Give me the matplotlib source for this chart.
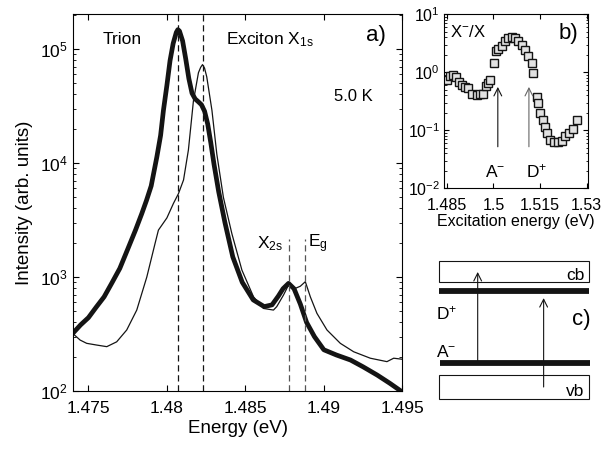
import numpy as np
import matplotlib
matplotlib.use("Agg")
import matplotlib.pyplot as plt
from matplotlib.patches import Rectangle
from matplotlib.ticker import FixedLocator, FixedFormatter, LogLocator, NullFormatter

plt.rcParams['font.family'] = ['Liberation Sans', 'DejaVu Sans']
plt.rcParams['mathtext.fontset'] = 'custom'
plt.rcParams['mathtext.rm'] = 'Liberation Sans'
plt.rcParams['mathtext.it'] = 'Liberation Sans:italic'
plt.rcParams['mathtext.default'] = 'regular'

# --- panel a: PL spectra (energy in eV, intensity in arb. units) ---
thick_e = [1.4740, 1.4745, 1.4750, 1.4755, 1.4760, 1.4765, 1.4770, 1.4775,
           1.4780, 1.4784, 1.4787, 1.4790, 1.47936, 1.4796, 1.47978, 1.4800,
           1.4802, 1.4804, 1.4806, 1.4807, 1.4808, 1.4810, 1.4812, 1.4814,
           1.4816, 1.4818, 1.4820, 1.4822, 1.4824, 1.4826, 1.4828, 1.4830,
           1.4833, 1.4837, 1.4842, 1.4848, 1.4855, 1.4862, 1.4867, 1.4871,
           1.4874, 1.48775, 1.4881, 1.4885, 1.4889, 1.4894, 1.4900, 1.4908,
           1.4917, 1.4925, 1.4934, 1.4942, 1.4950]
thick_i = [320, 380, 440, 545, 670, 890, 1190, 1750,
           2580, 3600, 4700, 6300, 11300, 17500, 29000, 48000,
           79000, 112000, 140000, 148000, 144000, 118000, 82000, 55000,
           41000, 36500, 34500, 32500, 28500, 22000, 15000, 9800,
           5600, 3000, 1500, 900, 630, 550, 570, 680,
           790, 880, 790, 580, 400, 300, 230, 207,
           187, 163, 138, 117, 98]

thin_e = [1.4740, 1.47447, 1.47489, 1.47553, 1.47617, 1.4768, 1.47744, 1.47808,
          1.47872, 1.47925, 1.47946, 1.4800, 1.48042, 1.48074, 1.48106, 1.48137,
          1.48169, 1.48201, 1.48215, 1.48227, 1.4824, 1.48254, 1.48287, 1.48318,
          1.4836, 1.48414, 1.48478, 1.48552, 1.48616, 1.48679, 1.4870, 1.48743,
          1.48775, 1.48818, 1.4885, 1.48882, 1.48914, 1.48956, 1.4902, 1.49105,
          1.4919, 1.49296, 1.49402, 1.49445, 1.4950]
thin_i = [320, 280, 262, 253, 245, 270, 343, 513,
          1000, 1980, 2580, 3300, 4430, 5400, 7100, 13000,
          35000, 62000, 69000, 73000, 68000, 57000, 29000, 12000,
          5000, 2400, 1150, 670, 530, 513, 550, 695,
          850, 795, 830, 910, 670, 480, 343, 262,
          221, 194, 181, 194, 190]

full_lines = [1.4807, 1.4823]      # trion, X1s
short_lines = [1.4878, 1.4888]     # X2s, Eg
short_top = 2150

# --- panel b: X-/X ratio vs excitation energy ---
exc_e = [1.4850, 1.4860, 1.4870, 1.4880, 1.4890, 1.4900, 1.4909, 1.4919, 1.4930,
         1.4946, 1.4957, 1.4967, 1.4976, 1.4984, 1.4989, 1.5002, 1.5007, 1.5016,
         1.5027, 1.5037, 1.5048, 1.5059, 1.5069, 1.5080, 1.5091, 1.5101, 1.5112,
         1.5123, 1.5128, 1.5139, 1.5144, 1.5150, 1.5160, 1.5166, 1.5171, 1.5182,
         1.5194, 1.5208, 1.5219, 1.5230, 1.5244, 1.5255, 1.5268]
ratio = [0.74, 0.86, 0.90, 0.82, 0.69, 0.60, 0.56, 0.53, 0.43,
         0.41, 0.42, 0.43, 0.57, 0.66, 0.74, 1.43, 2.3, 2.5,
         2.8, 3.4, 3.9, 4.0, 3.9, 3.4, 2.9, 2.4, 1.9,
         1.43, 0.98, 0.38, 0.29, 0.195, 0.15, 0.116, 0.089, 0.068,
         0.063, 0.063, 0.066, 0.079, 0.089, 0.107, 0.15]
arrow_e = [1.5014, 1.5114]
arrow_labels = ['A$^{-}$', 'D$^{+}$']

fig = plt.figure(figsize=(6.07, 4.51), dpi=100)
ink = '#141414'

# panel a
ax = fig.add_axes([0.1198, 0.133, 0.543, 0.836])
ax.plot(thin_e, thin_i, color=ink, lw=0.9)
ax.plot(thick_e, thick_i, color=ink, lw=3.4, solid_joinstyle='round')
for e in full_lines:
    ax.axvline(e, color=ink, lw=0.9, ls=(0, (5, 3)))
for e in short_lines:
    ax.plot([e, e], [100, short_top], color='#555555', lw=0.9, ls=(0, (5, 3)))
ax.set_yscale('log')
ax.set_xlim(1.474, 1.495)
ax.set_ylim(100, 2.03e5)
ax.set_xticks([1.475, 1.48, 1.485, 1.49, 1.495])
ax.set_xticklabels(['1.475', '1.48', '1.485', '1.49', '1.495'])
ax.tick_params(which='both', direction='in', top=True, right=True, labelsize=12.5)
ax.tick_params(axis='x', pad=7)
ax.tick_params(which='major', length=4)
ax.tick_params(which='minor', length=2.2)
ax.set_xlabel('Energy (eV)', fontsize=13.5, labelpad=3)
ax.set_ylabel('Intensity (arb. units)', fontsize=13.5, labelpad=5)
ax.text(0.15, 0.931, 'Trion', transform=ax.transAxes, ha='center', va='center', fontsize=12.5)
ax.text(0.465, 0.931, 'Exciton X$_{1s}$', transform=ax.transAxes, ha='left', va='center', fontsize=12.5)
ax.text(0.92, 0.944, 'a)', transform=ax.transAxes, ha='center', va='center', fontsize=16)
ax.text(0.851, 0.78, '5.0 K', transform=ax.transAxes, ha='center', va='center', fontsize=12)
ax.text(0.6, 0.39, 'X$_{2s}$', transform=ax.transAxes, ha='center', va='center', fontsize=12.5)
ax.text(0.744, 0.39, 'E$_{g}$', transform=ax.transAxes, ha='center', va='center', fontsize=12.5)

# panel b
bx = fig.add_axes([0.732, 0.5825, 0.2362, 0.3858])
bx.plot(exc_e, ratio, ls='none', marker='s', ms=5.2, mfc='#e2e2e2', mec=ink, mew=1.0)
bx.set_yscale('log')
bx.set_xlim(1.4842, 1.5303)
bx.set_ylim(0.01, 10)
bx.xaxis.set_major_locator(FixedLocator([1.485, 1.5, 1.515, 1.53]))
bx.xaxis.set_major_formatter(FixedFormatter(['1.485', '1.5', '1.515', '1.53']))
bx.yaxis.set_major_locator(LogLocator(base=10, numticks=10))
bx.yaxis.set_minor_locator(LogLocator(base=10, subs=np.arange(2, 10), numticks=10))
bx.yaxis.set_minor_formatter(NullFormatter())
bx.tick_params(which='both', direction='in', top=True, right=True, labelsize=11.5, pad=3)
bx.tick_params(axis='x', pad=7)
bx.tick_params(which='major', length=3.5)
bx.tick_params(which='minor', length=1.8)
bx.set_xlabel('Excitation energy (eV)', fontsize=11.5, labelpad=1)
for e, col in zip(arrow_e, [ink, '#666666']):
    bx.annotate('', xy=(e, 0.56), xytext=(e, 0.052),
                arrowprops=dict(arrowstyle='->', color=col, lw=0.8,
                                mutation_scale=14, shrinkA=0, shrinkB=0))
bx.text(0.354, 0.095, arrow_labels[0], transform=bx.transAxes, ha='center', va='center', fontsize=12.5)
bx.text(0.644, 0.095, arrow_labels[1], transform=bx.transAxes, ha='center', va='center', fontsize=12.5)
bx.text(0.162, 0.9, 'X$^{-}$/X', transform=bx.transAxes, ha='center', va='center', fontsize=12)
bx.text(0.865, 0.89, 'b)', transform=bx.transAxes, ha='center', va='center', fontsize=16)

# panel c: level scheme
cx = fig.add_axes([0.708, 0.102, 0.28, 0.3326])
cx.set_xlim(0, 1)
cx.set_ylim(0, 1)
cx.axis('off')
x0, x1 = 0.053, 0.935
cx.add_patch(Rectangle((x0, 0.82), x1 - x0, 0.14, fill=False, ec=ink, lw=0.8))
cx.add_patch(Rectangle((x0, 0.04), x1 - x0, 0.16, fill=False, ec=ink, lw=0.8))
cx.plot([x0, x1], [0.76, 0.76], color=ink, lw=4.2, solid_capstyle='butt')
cx.plot([x0 + 0.005, x1 + 0.005], [0.28, 0.28], color=ink, lw=4.2, solid_capstyle='butt')
cx.annotate('', xy=(0.282, 0.887), xytext=(0.282, 0.28),
            arrowprops=dict(arrowstyle='->', color=ink, lw=0.8, mutation_scale=14,
                            shrinkA=0, shrinkB=0))
cx.annotate('', xy=(0.67, 0.713), xytext=(0.67, 0.12),
            arrowprops=dict(arrowstyle='->', color=ink, lw=0.8, mutation_scale=14,
                            shrinkA=0, shrinkB=0))
cx.text(0.912, 0.865, 'cb', ha='right', va='center', fontsize=12.5)
cx.text(0.912, 0.09, 'vb', ha='right', va='center', fontsize=12.5)
cx.text(0.1, 0.61, 'D$^{+}$', ha='center', va='center', fontsize=12.5)
cx.text(0.094, 0.355, 'A$^{-}$', ha='center', va='center', fontsize=12.5)
cx.text(0.894, 0.567, 'c)', ha='center', va='center', fontsize=16)

fig.savefig('out.png', dpi=100)
